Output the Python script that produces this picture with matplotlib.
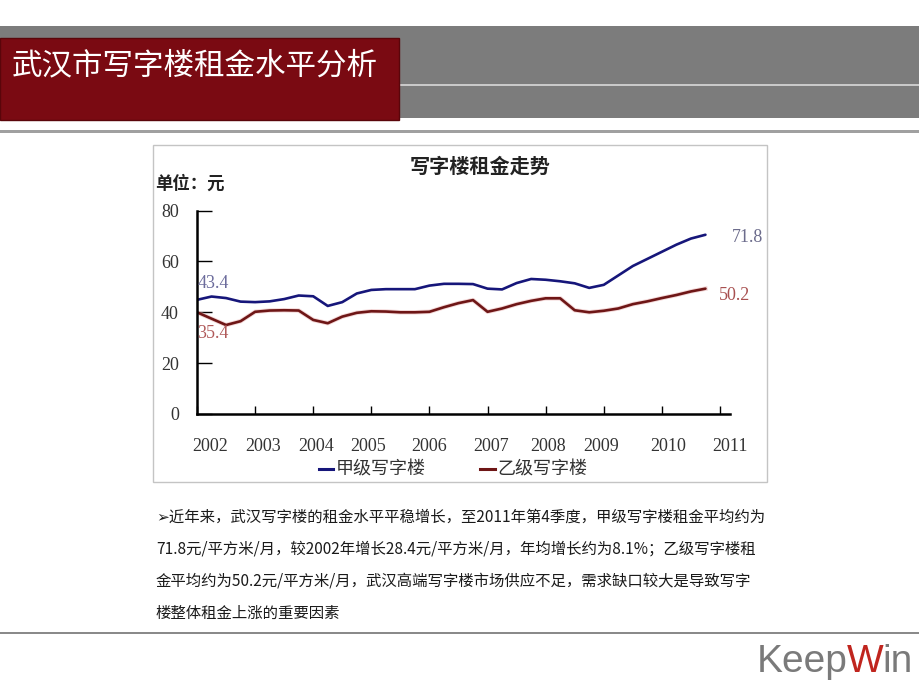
import matplotlib
matplotlib.use('Agg')
import matplotlib.pyplot as plt
from matplotlib.patches import Rectangle
from matplotlib.lines import Line2D

plt.rcParams['font.family'] = ['Noto Sans CJK SC', 'DejaVu Sans']

W, H = 920, 690

# quarterly rent, 2002 Q1 .. 2010 Q4
grade_a = [44.9, 46.2, 45.6, 44.2, 44.0, 44.3, 45.2, 46.6, 46.3, 42.5, 44.0, 47.4,
           48.8, 49.1, 49.1, 49.1, 50.5, 51.2, 51.2, 51.1, 49.3, 49.0, 51.5, 53.1,
           52.8, 52.2, 51.4, 49.6, 50.8, 54.5, 58.2, 61.0, 63.8, 66.6, 69.0, 70.5]
grade_b = [40.0, 37.5, 35.0, 36.5, 40.2, 40.7, 40.8, 40.7, 37.0, 35.7, 38.3, 39.8,
           40.4, 40.3, 40.0, 40.0, 40.2, 42.0, 43.6, 44.8, 40.2, 41.5, 43.2, 44.5,
           45.5, 45.5, 40.8, 40.0, 40.6, 41.5, 43.2, 44.3, 45.6, 46.8, 48.2, 49.3]
years = ['2002', '2003', '2004', '2005', '2006', '2007', '2008', '2009', '2010', '2011']
series_names = ['甲级写字楼', '乙级写字楼']
start_labels = ['43.4', '35.4']
end_labels = ['71.8', '50.2']

title = '武汉市写字楼租金水平分析'
chart_title = '写字楼租金走势'
unit = '单位：元'
body = ['➢近年来，武汉写字楼的租金水平平稳增长，至2011年第4季度，甲级写字楼租金平均约为',
        '71.8元/平方米/月，较2002年增长28.4元/平方米/月，年均增长约为8.1%；乙级写字楼租',
        '金平均约为50.2元/平方米/月，武汉高端写字楼市场供应不足，需求缺口较大是导致写字',
        '楼整体租金上涨的重要因素']
logo_parts = [('Keep', '#7a7a7a'), ('W', '#c0251e'), ('in', '#7a7a7a')]

BLUE = '#16167a'
RED = '#6e1616'


def fx(x):
    return x / W


def fy(y):
    return 1 - y / H


def ftext(x, y, s, **kw):
    return fig.text(fx(x), fy(y), s, **kw)


def frect(x0, y0, x1, y1, **kw):
    fig.patches.append(Rectangle((fx(x0), fy(y1)), fx(x1) - fx(x0), fy(y0) - fy(y1),
                                 transform=fig.transFigure, figure=fig, **kw))


fig = plt.figure(figsize=(W / 100, H / 100), dpi=100)
fig.patch.set_facecolor('white')

# header band
frect(0, 26, 920, 118, facecolor='#7c7c7c', edgecolor='none')
frect(399, 84, 920, 86, facecolor='#c9c9c9', edgecolor='none')
frect(0, 130, 920, 133, facecolor='#a0a0a0', edgecolor='none')
frect(0, 38, 399, 120, facecolor='#7a0a12', edgecolor='#5a050a', linewidth=1)
ftext(12, 66, title, color='white', fontsize=22, va='center', ha='left')

# chart frame
frect(153, 145, 767, 482, facecolor='none', edgecolor='#c4c4c4', linewidth=1)

ax = fig.add_axes([fx(197), fy(414), fx(730) - fx(197), fy(210.6) - fy(414)])
ax.set_facecolor('none')
q = list(range(len(grade_a)))
ax.plot(q, grade_a, color=BLUE, linewidth=1.9, solid_capstyle='round', solid_joinstyle='round')
ax.plot(q, grade_b, color='#e8b0b0', linewidth=3.2, alpha=0.5)
ax.plot(q, grade_b, color=RED, linewidth=1.9, solid_capstyle='round', solid_joinstyle='round')

ax.set_xlim(0, 36)
ax.set_ylim(0, 80)
for s in ['top', 'right']:
    ax.spines[s].set_visible(False)
for s in ['left', 'bottom']:
    ax.spines[s].set_linewidth(1.8)
    ax.spines[s].set_color('black')

ax.set_yticks([0, 20, 40, 60, 80])
ax.tick_params(axis='y', direction='in', length=11, width=1, pad=13,
               labelsize=13, labelcolor='#333333', labelfontfamily='Liberation Serif')
ax.xaxis.remove_overlapping_locs = False
ax.set_xticks(range(0, 37, 4))
ax.set_xticklabels([])
ax.tick_params(axis='x', which='major', direction='in', length=6, width=1)
# year labels sit a little off the ticks, as in the source
label_pos = [0.88, 4.53, 8.18, 11.76, 16.0, 20.27, 24.19, 27.84, 32.43, 36.69]
ax.set_xticks(label_pos, minor=True)
ax.set_xticklabels(years, minor=True)
ax.tick_params(axis='x', which='minor', length=0, pad=17, labelsize=13,
               labelcolor='#333333', labelfontfamily='Liberation Serif')

# data labels
ftext(213, 283, start_labels[0], color='#6c6c9c', fontsize=13, family='Liberation Serif',
      ha='center', va='center')
ftext(213, 334, start_labels[1], color='#b05a5a', fontsize=13, family='Liberation Serif',
      ha='center', va='center')
ftext(748, 237, end_labels[0], color='#6c6c8c', fontsize=13, family='Liberation Serif',
      ha='center', va='center')
ftext(735, 295, end_labels[1], color='#a85050', fontsize=13, family='Liberation Serif',
      ha='center', va='center')

ftext(480, 166, chart_title, fontsize=14.5, fontweight='bold', color='#222222',
      ha='center', va='center')
ftext(155, 184, unit, fontsize=12.5, fontweight='bold', color='#222222',
      ha='left', va='center')

handles = [Line2D([], [], color=BLUE, linewidth=2.2), Line2D([], [], color=RED, linewidth=2.2)]
fig.legend(handles, series_names, loc='center', bbox_to_anchor=(fx(453), fy(470)), ncol=2,
           frameon=False, fontsize=13, handlelength=0.8, handletextpad=0.15,
           columnspacing=3.0, labelcolor='#333333')

# body text
for i, line in enumerate(body):
    ftext(156, 517 + i * 32, line, fontsize=11.1, color='#1a1a1a', ha='left', va='center')

# footer
frect(0, 632, 920, 634, facecolor='#8a8a8a', edgecolor='none')
renderer = fig.canvas.get_renderer()
xpos = 757
for part, col in logo_parts:
    t = ftext(xpos, 662, part, fontsize=28, color=col, family='Liberation Sans',
              ha='left', va='center')
    xpos += t.get_window_extent(renderer).width - 1

fig.savefig('out.png', dpi=100)
